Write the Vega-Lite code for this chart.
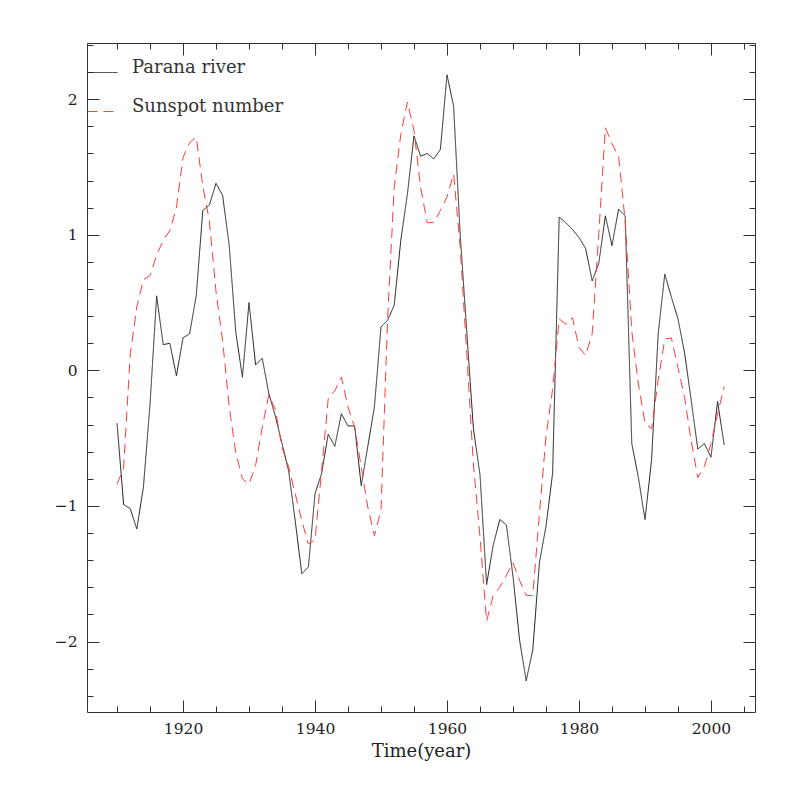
{
  "$schema": "https://vega.github.io/schema/vega-lite/v6.json",
  "width": 668,
  "height": 669,
  "autosize": "none",
  "padding": {"left": 87, "top": 43, "right": 42, "bottom": 85},
  "background": "white",
  "config": {
    "view": {"stroke": null},
    "font": "DejaVu Serif",
    "axis": {
      "grid": false,
      "domainColor": "#333333",
      "tickColor": "#333333",
      "labelColor": "#222222",
      "titleColor": "#222222",
      "labelFont": "DejaVu Serif",
      "titleFont": "DejaVu Serif",
      "labelFontSize": 15.5,
      "titleFontSize": 18,
      "titleFontWeight": "normal",
      "tickWidth": 1,
      "domainWidth": 1
    }
  },
  "datasets": {
    "d": [
      {"year": 1910, "series": "Parana river", "value": -0.39},
      {"year": 1911, "series": "Parana river", "value": -0.99},
      {"year": 1912, "series": "Parana river", "value": -1.02},
      {"year": 1913, "series": "Parana river", "value": -1.17},
      {"year": 1914, "series": "Parana river", "value": -0.86},
      {"year": 1915, "series": "Parana river", "value": -0.25},
      {"year": 1916, "series": "Parana river", "value": 0.55},
      {"year": 1917, "series": "Parana river", "value": 0.19},
      {"year": 1918, "series": "Parana river", "value": 0.2},
      {"year": 1919, "series": "Parana river", "value": -0.04},
      {"year": 1920, "series": "Parana river", "value": 0.24},
      {"year": 1921, "series": "Parana river", "value": 0.27},
      {"year": 1922, "series": "Parana river", "value": 0.55},
      {"year": 1923, "series": "Parana river", "value": 1.18},
      {"year": 1924, "series": "Parana river", "value": 1.22},
      {"year": 1925, "series": "Parana river", "value": 1.38},
      {"year": 1926, "series": "Parana river", "value": 1.29},
      {"year": 1927, "series": "Parana river", "value": 0.92},
      {"year": 1928, "series": "Parana river", "value": 0.28},
      {"year": 1929, "series": "Parana river", "value": -0.05},
      {"year": 1930, "series": "Parana river", "value": 0.5},
      {"year": 1931, "series": "Parana river", "value": 0.04},
      {"year": 1932, "series": "Parana river", "value": 0.09},
      {"year": 1933, "series": "Parana river", "value": -0.17},
      {"year": 1934, "series": "Parana river", "value": -0.34},
      {"year": 1935, "series": "Parana river", "value": -0.54},
      {"year": 1936, "series": "Parana river", "value": -0.74},
      {"year": 1937, "series": "Parana river", "value": -1.11},
      {"year": 1938, "series": "Parana river", "value": -1.5},
      {"year": 1939, "series": "Parana river", "value": -1.45},
      {"year": 1940, "series": "Parana river", "value": -0.91},
      {"year": 1941, "series": "Parana river", "value": -0.76},
      {"year": 1942, "series": "Parana river", "value": -0.47},
      {"year": 1943, "series": "Parana river", "value": -0.56},
      {"year": 1944, "series": "Parana river", "value": -0.32},
      {"year": 1945, "series": "Parana river", "value": -0.41},
      {"year": 1946, "series": "Parana river", "value": -0.41},
      {"year": 1947, "series": "Parana river", "value": -0.85},
      {"year": 1948, "series": "Parana river", "value": -0.56},
      {"year": 1949, "series": "Parana river", "value": -0.27},
      {"year": 1950, "series": "Parana river", "value": 0.32},
      {"year": 1951, "series": "Parana river", "value": 0.37},
      {"year": 1952, "series": "Parana river", "value": 0.48},
      {"year": 1953, "series": "Parana river", "value": 0.96},
      {"year": 1954, "series": "Parana river", "value": 1.3},
      {"year": 1955, "series": "Parana river", "value": 1.73},
      {"year": 1956, "series": "Parana river", "value": 1.58},
      {"year": 1957, "series": "Parana river", "value": 1.6},
      {"year": 1958, "series": "Parana river", "value": 1.56},
      {"year": 1959, "series": "Parana river", "value": 1.63},
      {"year": 1960, "series": "Parana river", "value": 2.18},
      {"year": 1961, "series": "Parana river", "value": 1.95},
      {"year": 1962, "series": "Parana river", "value": 1.0},
      {"year": 1963, "series": "Parana river", "value": 0.28},
      {"year": 1964, "series": "Parana river", "value": -0.43},
      {"year": 1965, "series": "Parana river", "value": -0.77},
      {"year": 1966, "series": "Parana river", "value": -1.58},
      {"year": 1967, "series": "Parana river", "value": -1.29},
      {"year": 1968, "series": "Parana river", "value": -1.1},
      {"year": 1969, "series": "Parana river", "value": -1.14},
      {"year": 1970, "series": "Parana river", "value": -1.52},
      {"year": 1971, "series": "Parana river", "value": -1.99},
      {"year": 1972, "series": "Parana river", "value": -2.29},
      {"year": 1973, "series": "Parana river", "value": -2.06},
      {"year": 1974, "series": "Parana river", "value": -1.42},
      {"year": 1975, "series": "Parana river", "value": -1.15},
      {"year": 1976, "series": "Parana river", "value": -0.76},
      {"year": 1977, "series": "Parana river", "value": 1.13},
      {"year": 1978, "series": "Parana river", "value": 1.09},
      {"year": 1979, "series": "Parana river", "value": 1.04},
      {"year": 1980, "series": "Parana river", "value": 0.98},
      {"year": 1981, "series": "Parana river", "value": 0.9},
      {"year": 1982, "series": "Parana river", "value": 0.66},
      {"year": 1983, "series": "Parana river", "value": 0.79},
      {"year": 1984, "series": "Parana river", "value": 1.14},
      {"year": 1985, "series": "Parana river", "value": 0.92},
      {"year": 1986, "series": "Parana river", "value": 1.19},
      {"year": 1987, "series": "Parana river", "value": 1.14},
      {"year": 1988, "series": "Parana river", "value": -0.54},
      {"year": 1989, "series": "Parana river", "value": -0.79},
      {"year": 1990, "series": "Parana river", "value": -1.1},
      {"year": 1991, "series": "Parana river", "value": -0.66},
      {"year": 1992, "series": "Parana river", "value": 0.27},
      {"year": 1993, "series": "Parana river", "value": 0.71},
      {"year": 1994, "series": "Parana river", "value": 0.54},
      {"year": 1995, "series": "Parana river", "value": 0.38},
      {"year": 1996, "series": "Parana river", "value": 0.13},
      {"year": 1997, "series": "Parana river", "value": -0.22},
      {"year": 1998, "series": "Parana river", "value": -0.58},
      {"year": 1999, "series": "Parana river", "value": -0.54},
      {"year": 2000, "series": "Parana river", "value": -0.64},
      {"year": 2001, "series": "Parana river", "value": -0.23},
      {"year": 2002, "series": "Parana river", "value": -0.55},
      {"year": 1910, "series": "Sunspot number", "value": -0.84},
      {"year": 1911, "series": "Sunspot number", "value": -0.72},
      {"year": 1912, "series": "Sunspot number", "value": 0.12},
      {"year": 1913, "series": "Sunspot number", "value": 0.47},
      {"year": 1914, "series": "Sunspot number", "value": 0.67},
      {"year": 1915, "series": "Sunspot number", "value": 0.7},
      {"year": 1916, "series": "Sunspot number", "value": 0.85},
      {"year": 1917, "series": "Sunspot number", "value": 0.96},
      {"year": 1918, "series": "Sunspot number", "value": 1.03},
      {"year": 1919, "series": "Sunspot number", "value": 1.2},
      {"year": 1920, "series": "Sunspot number", "value": 1.57},
      {"year": 1921, "series": "Sunspot number", "value": 1.68},
      {"year": 1922, "series": "Sunspot number", "value": 1.72},
      {"year": 1923, "series": "Sunspot number", "value": 1.36},
      {"year": 1924, "series": "Sunspot number", "value": 1.1},
      {"year": 1925, "series": "Sunspot number", "value": 0.58},
      {"year": 1926, "series": "Sunspot number", "value": 0.22},
      {"year": 1927, "series": "Sunspot number", "value": -0.27},
      {"year": 1928, "series": "Sunspot number", "value": -0.61},
      {"year": 1929, "series": "Sunspot number", "value": -0.8},
      {"year": 1930, "series": "Sunspot number", "value": -0.84},
      {"year": 1931, "series": "Sunspot number", "value": -0.7},
      {"year": 1932, "series": "Sunspot number", "value": -0.42},
      {"year": 1933, "series": "Sunspot number", "value": -0.18},
      {"year": 1934, "series": "Sunspot number", "value": -0.29},
      {"year": 1935, "series": "Sunspot number", "value": -0.57},
      {"year": 1936, "series": "Sunspot number", "value": -0.71},
      {"year": 1937, "series": "Sunspot number", "value": -0.91},
      {"year": 1938, "series": "Sunspot number", "value": -1.11},
      {"year": 1939, "series": "Sunspot number", "value": -1.28},
      {"year": 1940, "series": "Sunspot number", "value": -1.25},
      {"year": 1941, "series": "Sunspot number", "value": -0.74},
      {"year": 1942, "series": "Sunspot number", "value": -0.21},
      {"year": 1943, "series": "Sunspot number", "value": -0.15},
      {"year": 1944, "series": "Sunspot number", "value": -0.05},
      {"year": 1945, "series": "Sunspot number", "value": -0.27},
      {"year": 1946, "series": "Sunspot number", "value": -0.42},
      {"year": 1947, "series": "Sunspot number", "value": -0.71},
      {"year": 1948, "series": "Sunspot number", "value": -1.01},
      {"year": 1949, "series": "Sunspot number", "value": -1.22},
      {"year": 1950, "series": "Sunspot number", "value": -1.03},
      {"year": 1951, "series": "Sunspot number", "value": 0.38},
      {"year": 1952, "series": "Sunspot number", "value": 1.35},
      {"year": 1953, "series": "Sunspot number", "value": 1.74},
      {"year": 1954, "series": "Sunspot number", "value": 1.98},
      {"year": 1955, "series": "Sunspot number", "value": 1.77},
      {"year": 1956, "series": "Sunspot number", "value": 1.35},
      {"year": 1957, "series": "Sunspot number", "value": 1.09},
      {"year": 1958, "series": "Sunspot number", "value": 1.09},
      {"year": 1959, "series": "Sunspot number", "value": 1.18},
      {"year": 1960, "series": "Sunspot number", "value": 1.28},
      {"year": 1961, "series": "Sunspot number", "value": 1.45},
      {"year": 1962, "series": "Sunspot number", "value": 0.91},
      {"year": 1963, "series": "Sunspot number", "value": 0.12},
      {"year": 1964, "series": "Sunspot number", "value": -0.69},
      {"year": 1965, "series": "Sunspot number", "value": -1.23},
      {"year": 1966, "series": "Sunspot number", "value": -1.85},
      {"year": 1967, "series": "Sunspot number", "value": -1.66},
      {"year": 1968, "series": "Sunspot number", "value": -1.6},
      {"year": 1969, "series": "Sunspot number", "value": -1.51},
      {"year": 1970, "series": "Sunspot number", "value": -1.42},
      {"year": 1971, "series": "Sunspot number", "value": -1.55},
      {"year": 1972, "series": "Sunspot number", "value": -1.66},
      {"year": 1973, "series": "Sunspot number", "value": -1.66},
      {"year": 1974, "series": "Sunspot number", "value": -1.06},
      {"year": 1975, "series": "Sunspot number", "value": -0.49},
      {"year": 1976, "series": "Sunspot number", "value": -0.14},
      {"year": 1977, "series": "Sunspot number", "value": 0.38},
      {"year": 1978, "series": "Sunspot number", "value": 0.34},
      {"year": 1979, "series": "Sunspot number", "value": 0.39},
      {"year": 1980, "series": "Sunspot number", "value": 0.17},
      {"year": 1981, "series": "Sunspot number", "value": 0.11},
      {"year": 1982, "series": "Sunspot number", "value": 0.27},
      {"year": 1983, "series": "Sunspot number", "value": 1.01},
      {"year": 1984, "series": "Sunspot number", "value": 1.79},
      {"year": 1985, "series": "Sunspot number", "value": 1.67},
      {"year": 1986, "series": "Sunspot number", "value": 1.58},
      {"year": 1987, "series": "Sunspot number", "value": 1.1},
      {"year": 1988, "series": "Sunspot number", "value": 0.29},
      {"year": 1989, "series": "Sunspot number", "value": -0.1},
      {"year": 1990, "series": "Sunspot number", "value": -0.39},
      {"year": 1991, "series": "Sunspot number", "value": -0.43},
      {"year": 1992, "series": "Sunspot number", "value": -0.07},
      {"year": 1993, "series": "Sunspot number", "value": 0.23},
      {"year": 1994, "series": "Sunspot number", "value": 0.24},
      {"year": 1995, "series": "Sunspot number", "value": 0.02},
      {"year": 1996, "series": "Sunspot number", "value": -0.2},
      {"year": 1997, "series": "Sunspot number", "value": -0.52},
      {"year": 1998, "series": "Sunspot number", "value": -0.79},
      {"year": 1999, "series": "Sunspot number", "value": -0.71},
      {"year": 2000, "series": "Sunspot number", "value": -0.54},
      {"year": 2001, "series": "Sunspot number", "value": -0.32},
      {"year": 2002, "series": "Sunspot number", "value": -0.12}
    ]
  },
  "data": {"name": "d"},
  "layer": [
    {
      "mark": {"type": "line", "strokeWidth": 1},
      "encoding": {
        "x": {"field": "year", "type": "quantitative", "scale": {"domain": [1905.45, 2006.67], "nice": false, "zero": false},
          "axis": {"orient": "bottom", "title": "Time(year)", "values": [1920, 1940, 1960, 1980, 2000], "format": "d", "ticks": false, "labelPadding": 9, "titlePadding": 6, "domain": true}},
        "y": {"field": "value", "type": "quantitative", "scale": {"domain": [-2.52, 2.415], "nice": false, "zero": false},
          "axis": {"orient": "left", "title": null, "values": [-2, -1, 0, 1, 2], "format": "d", "ticks": false, "labelPadding": 10, "domain": true}},
        "color": {"field": "series", "type": "nominal",
          "scale": {"domain": ["Parana river", "Sunspot number"], "range": ["#222222", "#ff3b3b"]},
          "legend": {"orient": "none", "legendX": 0, "legendY": 14, "title": null, "padding": 0, "symbolType": "stroke", "symbolSize": 900, "symbolStrokeWidth": 1, "labelFont": "DejaVu Serif", "labelFontSize": 18, "labelColor": "#333333", "labelBaseline": "alphabetic", "labelOffset": 14, "rowPadding": 19}},
        "strokeDash": {"field": "series", "type": "nominal",
          "scale": {"domain": ["Parana river", "Sunspot number"], "range": [[1, 0], [10, 6]]},
          "legend": {"orient": "none", "legendX": 0, "legendY": 14, "title": null, "padding": 0, "symbolType": "stroke", "symbolSize": 900, "symbolStrokeWidth": 1, "labelFont": "DejaVu Serif", "labelFontSize": 18, "labelColor": "#333333", "labelBaseline": "alphabetic", "labelOffset": 14, "rowPadding": 19}}
      }
    },
    {
      "mark": {"type": "point", "opacity": 0},
      "encoding": {
        "x": {"field": "year", "type": "quantitative", "axis": {"orient": "bottom", "title": null, "labels": false, "domain": false, "values": [1920, 1940, 1960, 1980, 2000], "tickSize": -12}},
        "y": {"field": "value", "type": "quantitative", "axis": {"orient": "left", "title": null, "labels": false, "domain": false, "values": [-2, -1, 0, 1, 2], "tickSize": -12}}
      }
    },
    {
      "mark": {"type": "point", "opacity": 0},
      "encoding": {
        "x": {"field": "year", "type": "quantitative", "axis": {"orient": "bottom", "title": null, "labels": false, "domain": false, "values": [1910, 1915, 1920, 1925, 1930, 1935, 1940, 1945, 1950, 1955, 1960, 1965, 1970, 1975, 1980, 1985, 1990, 1995, 2000, 2005], "tickSize": -6}},
        "y": {"field": "value", "type": "quantitative", "axis": {"orient": "left", "title": null, "labels": false, "domain": false, "values": [-2.4, -2.2, -2, -1.8, -1.6, -1.4, -1.2, -1, -0.8, -0.6, -0.4, -0.2, 0, 0.2, 0.4, 0.6, 0.8, 1, 1.2, 1.4, 1.6, 1.8, 2, 2.2, 2.4], "tickSize": -6}}
      }
    },
    {
      "mark": {"type": "point", "opacity": 0},
      "encoding": {
        "x": {"field": "year", "type": "quantitative", "axis": {"orient": "top", "title": null, "labels": false, "domain": true, "values": [1920, 1940, 1960, 1980, 2000], "tickSize": -12}},
        "y": {"field": "value", "type": "quantitative", "axis": {"orient": "right", "title": null, "labels": false, "domain": true, "values": [-2, -1, 0, 1, 2], "tickSize": -12}}
      }
    },
    {
      "mark": {"type": "point", "opacity": 0},
      "encoding": {
        "x": {"field": "year", "type": "quantitative", "axis": {"orient": "top", "title": null, "labels": false, "domain": false, "values": [1910, 1915, 1920, 1925, 1930, 1935, 1940, 1945, 1950, 1955, 1960, 1965, 1970, 1975, 1980, 1985, 1990, 1995, 2000, 2005], "tickSize": -6}},
        "y": {"field": "value", "type": "quantitative", "axis": {"orient": "right", "title": null, "labels": false, "domain": false, "values": [-2.4, -2.2, -2, -1.8, -1.6, -1.4, -1.2, -1, -0.8, -0.6, -0.4, -0.2, 0, 0.2, 0.4, 0.6, 0.8, 1, 1.2, 1.4, 1.6, 1.8, 2, 2.2, 2.4], "tickSize": -6}}
      }
    }
  ],
  "resolve": {"axis": {"x": "independent", "y": "independent"}}
}
